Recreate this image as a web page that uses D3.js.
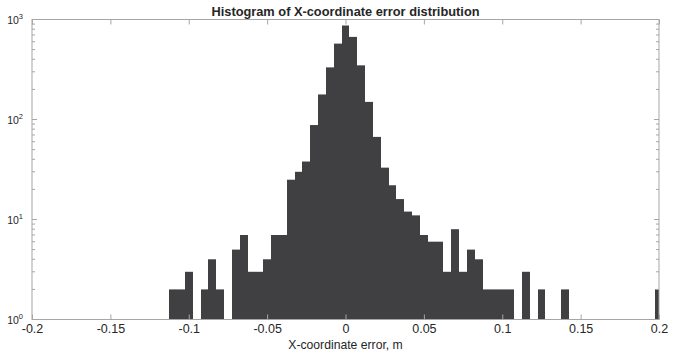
<!DOCTYPE html>
<html>
<head>
<meta charset="utf-8">
<script src="https://cdn.jsdelivr.net/npm/d3@7"></script>
<style>
  html, body { margin: 0; padding: 0; background: #fff; }
  svg { display: block; }
  text { font-family: "Liberation Sans", Arial, Helvetica, sans-serif; fill: #262626; }
</style>
</head>
<body>
<svg id="chart" width="686" height="352"></svg>
<script>
// ---- data ----
const binCenters = [
  -0.110, -0.105, -0.100, -0.095, -0.090, -0.085, -0.080, -0.075, -0.070, -0.065,
  -0.060, -0.055, -0.050, -0.045, -0.040, -0.035, -0.030, -0.025, -0.020, -0.015,
  -0.010, -0.005, 0.000, 0.005, 0.010, 0.015, 0.020, 0.025, 0.030, 0.035,
  0.040, 0.045, 0.050, 0.055, 0.060, 0.065, 0.070, 0.075, 0.080, 0.085,
  0.090, 0.095, 0.100, 0.105, 0.110, 0.115, 0.120, 0.125, 0.130, 0.135,
  0.140, 0.145, 0.150, 0.155, 0.160, 0.165, 0.170, 0.175, 0.180, 0.185,
  0.190, 0.195, 0.200
];
const counts = [
  2, 2, 3, 0, 2, 4, 2, 0, 5, 7,
  3, 3, 4, 7, 7, 25, 30, 38, 88, 178,
  332, 574, 871, 670, 348, 150, 67, 33, 22, 16,
  12, 11, 7, 6, 6, 3, 8, 3, 5, 4,
  2, 2, 2, 2, 0, 3, 0, 2, 0, 0,
  2, 0, 0, 0, 0, 0, 0, 0, 0, 0,
  0, 0, 2
];
const binWidth = 0.005;
const xTicks = [-0.2, -0.15, -0.1, -0.05, 0, 0.05, 0.1, 0.15, 0.2];
const yTicks = [1, 10, 100, 1000];
const yExponents = ["0", "1", "2", "3"];
const titleText = "Histogram of X-coordinate error distribution";
const xLabelText = "X-coordinate error, m";

// ---- layout ----
const L = 32, R = 659, T = 19.5, B = 319.5;
const svg = d3.select("#chart");
const x = d3.scaleLinear().domain([-0.2, 0.2]).range([L, R]);
const y = d3.scaleLog().domain([1, 1000]).range([B, T]);

svg.append("defs").append("clipPath").attr("id", "plotclip")
  .append("rect").attr("x", L).attr("y", T).attr("width", R - L).attr("height", B - T);

// bars
const bins = binCenters.map((c, i) => ({ c, n: counts[i] })).filter(d => d.n > 0);
svg.append("g").attr("clip-path", "url(#plotclip)")
  .selectAll("rect").data(bins).join("rect")
  .attr("x", d => Math.round(x(d.c - binWidth / 2)))
  .attr("width", d => Math.round(x(d.c + binWidth / 2)) - Math.round(x(d.c - binWidth / 2)))
  .attr("y", d => y(d.n))
  .attr("height", d => y(1) - y(d.n))
  .attr("fill", "#404042");

const axisColor = "#a6a6a6";
const fmt = d => d === 0 ? "0" : String(+d.toFixed(2));

// bottom axis (ticks inward)
const gx = svg.append("g").attr("transform", `translate(0,${B})`)
  .call(d3.axisBottom(x).tickValues(xTicks).tickFormat(fmt).tickSizeInner(-5).tickSizeOuter(0).tickPadding(5));
gx.select(".domain").remove();
gx.selectAll(".tick line").attr("stroke", axisColor);
gx.selectAll(".tick text").attr("font-size", 12.5).attr("fill", "#262626")
  .style("font-family", '"Liberation Sans", Arial, sans-serif');

// top axis ticks
const gxt = svg.append("g").attr("transform", `translate(0,${T})`)
  .call(d3.axisTop(x).tickValues(xTicks).tickFormat("").tickSizeInner(-5).tickSizeOuter(0));
gxt.select(".domain").remove();
gxt.selectAll(".tick line").attr("stroke", axisColor);

// y ticks (major + minor) left and right
const minor = [];
[1, 10, 100].forEach(b => { for (let m = 2; m <= 9; m++) minor.push(b * m); });
const tg = svg.append("g").attr("stroke", axisColor).attr("stroke-width", 1);
yTicks.forEach(v => {
  tg.append("line").attr("x1", L).attr("x2", L + 5).attr("y1", y(v)).attr("y2", y(v));
  tg.append("line").attr("x1", R).attr("x2", R - 5).attr("y1", y(v)).attr("y2", y(v));
});
minor.forEach(v => {
  tg.append("line").attr("x1", L).attr("x2", L + 3).attr("y1", y(v)).attr("y2", y(v));
  tg.append("line").attr("x1", R).attr("x2", R - 3).attr("y1", y(v)).attr("y2", y(v));
});

// box
svg.append("rect").attr("x", L).attr("y", T).attr("width", R - L).attr("height", B - T)
  .attr("fill", "none").attr("stroke", axisColor).attr("stroke-width", 1);

// y tick labels 10^k
yTicks.forEach((v, i) => {
  const t = svg.append("text").attr("x", L - 9).attr("y", y(v) + 4)
    .attr("text-anchor", "end").attr("font-size", 10.5);
  t.append("tspan").text("10");
  t.append("tspan").attr("font-size", 7.5).attr("dy", -5).text(yExponents[i]);
});

// title
svg.append("text").attr("x", (L + R) / 2).attr("y", 15.5).attr("text-anchor", "middle")
  .attr("font-size", 12.8).attr("font-weight", "bold").attr("fill", "#111").text(titleText);

// x label
svg.append("text").attr("x", (L + R) / 2).attr("y", 349).attr("text-anchor", "middle")
  .attr("font-size", 12.2).text(xLabelText);
</script>
</body>
</html>
